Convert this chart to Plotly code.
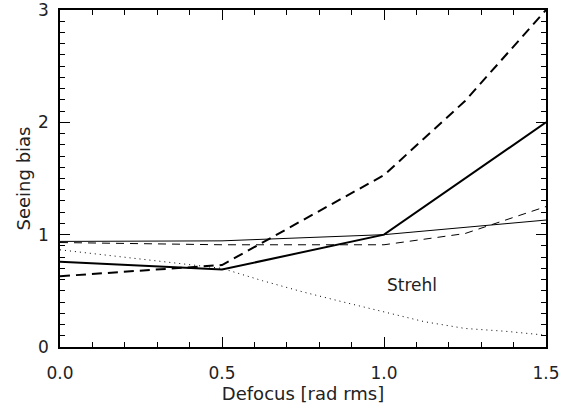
import plotly.graph_objects as go

# Data
defocus = [0.0, 0.5, 1.0, 1.25, 1.5]
bias_thick_solid = [0.76, 0.69, 1.0, 1.50, 2.0]
bias_thick_dashed = [0.63, 0.73, 1.53, 2.19, 3.0]
bias_thin_solid = [0.94, 0.945, 1.0, 1.065, 1.13]
bias_thin_dashed = [0.93, 0.91, 0.91, 1.01, 1.25]

defocus_strehl = [0.0, 0.25, 0.5, 0.625, 0.75, 0.875, 1.0, 1.125, 1.25, 1.375, 1.5]
strehl = [0.865, 0.785, 0.70, 0.59, 0.49, 0.40, 0.31, 0.225, 0.165, 0.14, 0.105]

x_ticks = [0.0, 0.5, 1.0, 1.5]
x_ticklabels = ["0.0", "0.5", "1.0", "1.5"]
y_ticks = [0, 1, 2, 3]
y_ticklabels = ["0", "1", "2", "3"]

FONT = "DejaVu Sans"
INK = "#222222"

fig = go.Figure()
fig.add_trace(go.Scatter(x=defocus, y=bias_thin_solid, mode="lines",
                         line=dict(color="black", width=1), showlegend=False))
fig.add_trace(go.Scatter(x=defocus, y=bias_thin_dashed, mode="lines",
                         line=dict(color="black", width=1, dash="8px,6px"), showlegend=False))
fig.add_trace(go.Scatter(x=defocus_strehl, y=strehl, mode="lines",
                         line=dict(color="black", width=1, dash="1px,4px"), showlegend=False))
fig.add_trace(go.Scatter(x=defocus, y=bias_thick_solid, mode="lines",
                         line=dict(color="black", width=2), showlegend=False))
fig.add_trace(go.Scatter(x=defocus, y=bias_thick_dashed, mode="lines",
                         line=dict(color="black", width=2, dash="10px,6px"), showlegend=False))

fig.add_annotation(x=1.086, y=0.55, text="Strehl", showarrow=False,
                   font=dict(family=FONT, size=17, color=INK))

axis_common = dict(
    showgrid=False, zeroline=False, showline=True, linecolor="black", linewidth=1.5,
    mirror="ticks", ticks="inside", tickcolor="black", tickwidth=1,
    tickfont=dict(family=FONT, size=17, color=INK),
    automargin=False, ticklabeloverflow="allow",
)

fig.update_xaxes(
    range=[0, 1.5], tickvals=x_ticks, ticktext=x_ticklabels, ticklen=10,
    minor=dict(dtick=0.1, ticks="inside", ticklen=5, tickcolor="black", tickwidth=1),
    ticklabelstandoff=10,
    title=dict(text="Defocus [rad rms]", font=dict(family=FONT, size=18, color=INK), standoff=4),
    **axis_common,
)
fig.update_yaxes(
    range=[0, 3], tickvals=y_ticks, ticktext=y_ticklabels, ticklen=10,
    minor=dict(dtick=0.1, ticks="inside", ticklen=5, tickcolor="black", tickwidth=1),
    ticklabelstandoff=6,
    title=dict(text="Seeing bias", font=dict(family=FONT, size=18, color=INK), standoff=3),
    **axis_common,
)

fig.update_layout(
    width=561, height=410,
    margin=dict(l=60, r=15, t=10, b=63),
    paper_bgcolor="white", plot_bgcolor="white",
)

fig.write_html("out.html", config={"displayModeBar": False},
               post_script="document.body.style.margin='0px';document.body.style.overflow='hidden';")
